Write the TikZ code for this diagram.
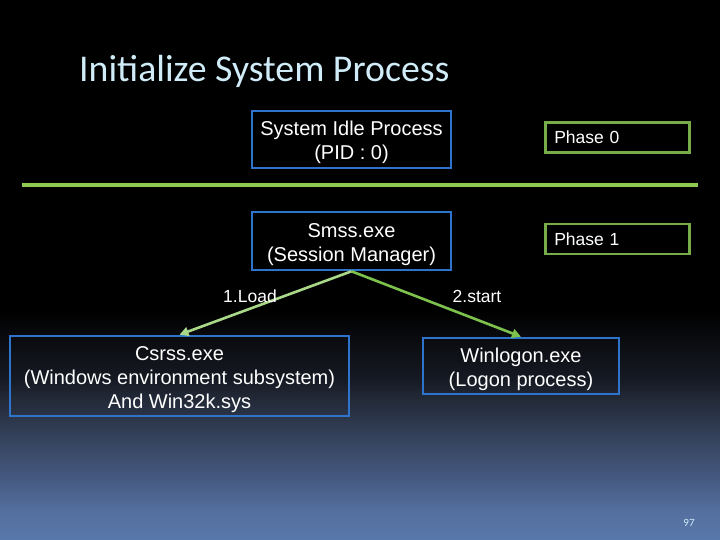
\documentclass[tikz,border=0pt]{standalone}
\usepackage{fontspec}
\setmainfont{Liberation Sans}
\newfontfamily\titlefont{Carlito}
\usepackage{xcolor}
\usepackage{tikz}
\usetikzlibrary{arrows.meta,positioning}
\definecolor{procblue}{HTML}{2E74CC}
\definecolor{phasegreen}{HTML}{76AC4A}
\definecolor{linegreen}{HTML}{8CCB50}
\definecolor{loadgreen}{HTML}{A8D888}
\definecolor{startgreen}{HTML}{7DC24C}
\definecolor{titleblue}{HTML}{D0ECF8}
\definecolor{bgA}{HTML}{5877AA}
\definecolor{bgB}{HTML}{5570A0}
\definecolor{bgC}{HTML}{44587E}
\definecolor{bgD}{HTML}{36445E}
\definecolor{bgE}{HTML}{232A38}
\definecolor{bgF}{HTML}{161A24}
\definecolor{bgG}{HTML}{0A0C10}
% visible part of a tikz shading is 25bp..75bp
\pgfdeclareverticalshading{slidebg}{100bp}{color(0bp)=(bgA); color(25bp)=(bgA); color(27.5bp)=(bgB); color(31bp)=(bgC); color(34.2bp)=(bgD); color(38bp)=(bgE); color(39.8bp)=(bgF); color(43.5bp)=(bgG); color(46.2bp)=(black); color(100bp)=(black)}
\newcommand{\tstrut}{\rule{0pt}{21pt}}

\begin{document}
\begin{tikzpicture}[x=1pt,y=-1pt,
  procbox/.style={rectangle,draw=procblue,line width=2.6pt,text=white,align=center,font=\fontsize{20}{24}\selectfont},
  phasebox/.style={rectangle,draw=phasegreen,line width=2.6pt,text=white,align=left,anchor=west,text width=126pt,minimum width=144pt,minimum height=30pt,inner sep=0pt,font=\fontsize{17.5}{21}\selectfont},
  arr/.style={-{Triangle[length=9pt,width=9pt]},line width=2.6pt},
  lbl/.style={text=white,font=\fontsize{17.5}{21}\selectfont}
]
\useasboundingbox (0,0) rectangle (720,540);
\shade[shading=slidebg] (0,0) rectangle (720,540);
\node[anchor=base west,text=titleblue,font=\titlefont\fontsize{37.8}{44}\selectfont,inner sep=0pt] (title) at (79,82) {Initialize System Process};
% phase 0
\node[procbox,minimum width=199pt,minimum height=57pt] (idle) at (351.5,139.5) {\tstrut System Idle Process\\(PID : 0)};
\node[phasebox] (ph0) at (544,137.5) {Phase 0};
\coordinate (sepl) at (22,185);
\coordinate (sepr) at (698,185);
\draw[linegreen,line width=4pt] (sepl) -- (sepr);
% phase 1
\node[procbox,minimum width=199pt,minimum height=58pt] (smss) at (351.5,241) {\tstrut Smss.exe\\(Session Manager)};
\node[phasebox] (ph1) at (544,239) {Phase 1};
\node[procbox,minimum width=339pt,minimum height=80pt] (csrss) at (179.5,376) {\tstrut Csrss.exe\\(Windows environment subsystem)\\And Win32k.sys};
\node[procbox,minimum width=196pt,minimum height=56pt] (winlogon) at (521,366) {\tstrut Winlogon.exe\\(Logon process)};
\draw[arr,loadgreen] (smss.south) -- (csrss.north);
\draw[arr,startgreen] (smss.south) -- (winlogon.north);
\node[lbl] (load) at (250,296) {1.Load};
\node[lbl] (start) at (477,296) {2.start};
\node[text=titleblue,font=\titlefont\fontsize{11}{13}\selectfont] (pagenum) at (689,523) {97};
\end{tikzpicture}
\end{document}
